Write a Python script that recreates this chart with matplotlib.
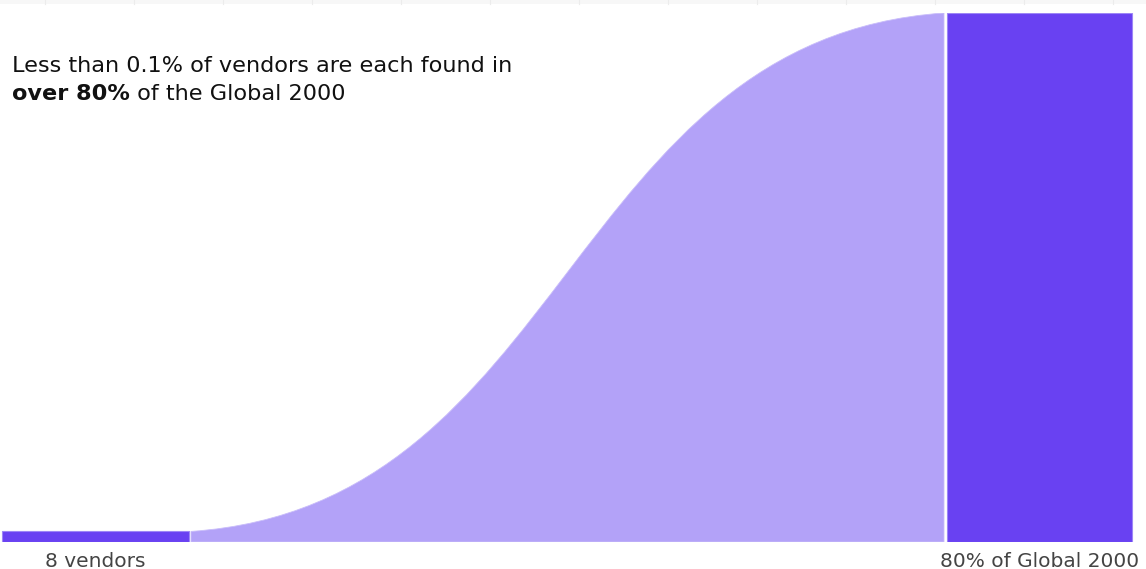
import numpy as np
import matplotlib.pyplot as plt
from matplotlib.path import Path
from matplotlib.patches import PathPatch, Rectangle

# data
node_labels = ["8 vendors", "80% of Global 2000"]
node_values = [1.6, 80.0]   # bar heights (share of Global 2000, %)
note_line1 = "Less than 0.1% of vendors are each found in"
note_bold = "over 80%"
note_rest = " of the Global 2000"

# colours
dark = "#6941f2"
light = "#b3a2f8"
edge = "#9d86f6"

W, H = 1146, 569
fig = plt.figure(figsize=(W / 100, H / 100), dpi=100)
plt.rcParams['font.family'] = ['DejaVu Sans']

# faint strip at the very top
fig.patches.append(Rectangle((0, 1 - 4 / H), 1, 4 / H, transform=fig.transFigure,
                             facecolor="#f7f7f7", edgecolor="none"))
for xp in np.arange(45, W, 89):
    fig.add_artist(plt.Line2D([xp / W, xp / W], [1 - 4 / H, 1], transform=fig.transFigure,
                              color="#ececec", lw=0.8))

ax = fig.add_axes([0, 27 / H, 1, (542 - 13) / H])
ax.set_xlim(0, W)
ax.set_ylim(0, node_values[1])
ax.axis("off")

# node layout (pixel columns)
left_x0, left_x1 = 2, 189
right_x0, right_x1 = 947, 1132
flow_x0, flow_x1 = 191, 944

# bars
ax.bar((left_x0 + left_x1) / 2, node_values[0], width=left_x1 - left_x0,
       color=dark, edgecolor=edge, linewidth=0.8)
ax.bar((right_x0 + right_x1) / 2, node_values[1], width=right_x1 - right_x0,
       color=dark, edgecolor=edge, linewidth=0.8)

# flow between them (cubic link, slightly tilted tangents)
y0, y1 = node_values
mx = (flow_x1 - flow_x0) * 0.5
dy = (y1 - y0) * 0.05
verts = [(flow_x0, 0), (flow_x0, y0),
         (flow_x0 + mx, y0 + dy), (flow_x1 - mx, y1 - dy), (flow_x1, y1),
         (flow_x1, 0), (flow_x0, 0)]
codes = [Path.MOVETO, Path.LINETO, Path.CURVE4, Path.CURVE4, Path.CURVE4,
         Path.LINETO, Path.CLOSEPOLY]
ax.add_patch(PathPatch(Path(verts, codes), facecolor=light, edgecolor="#c9bdfa", lw=0.6))

# labels
fig.text(((left_x0 + left_x1) / 2) / W, 1 - 567 / H, node_labels[0], ha="center",
         va="baseline", fontsize=14.5, color="#444444")
fig.text(((right_x0 + right_x1) / 2) / W, 1 - 567 / H, node_labels[1], ha="center",
         va="baseline", fontsize=14.5, color="#444444")

fs = 16.1
fig.text(12 / W, 1 - 72 / H, note_line1, ha="left", va="baseline", fontsize=fs, color="#111111")
t = fig.text(12 / W, 1 - 100 / H, note_bold, ha="left", va="baseline", fontsize=fs,
             fontweight="bold", color="#111111")
fig.canvas.draw()
bb = t.get_window_extent()
fig.text(bb.x1 / W, 1 - 100 / H, note_rest, ha="left", va="baseline", fontsize=fs,
         color="#111111")

fig.savefig("out.png", dpi=100)
